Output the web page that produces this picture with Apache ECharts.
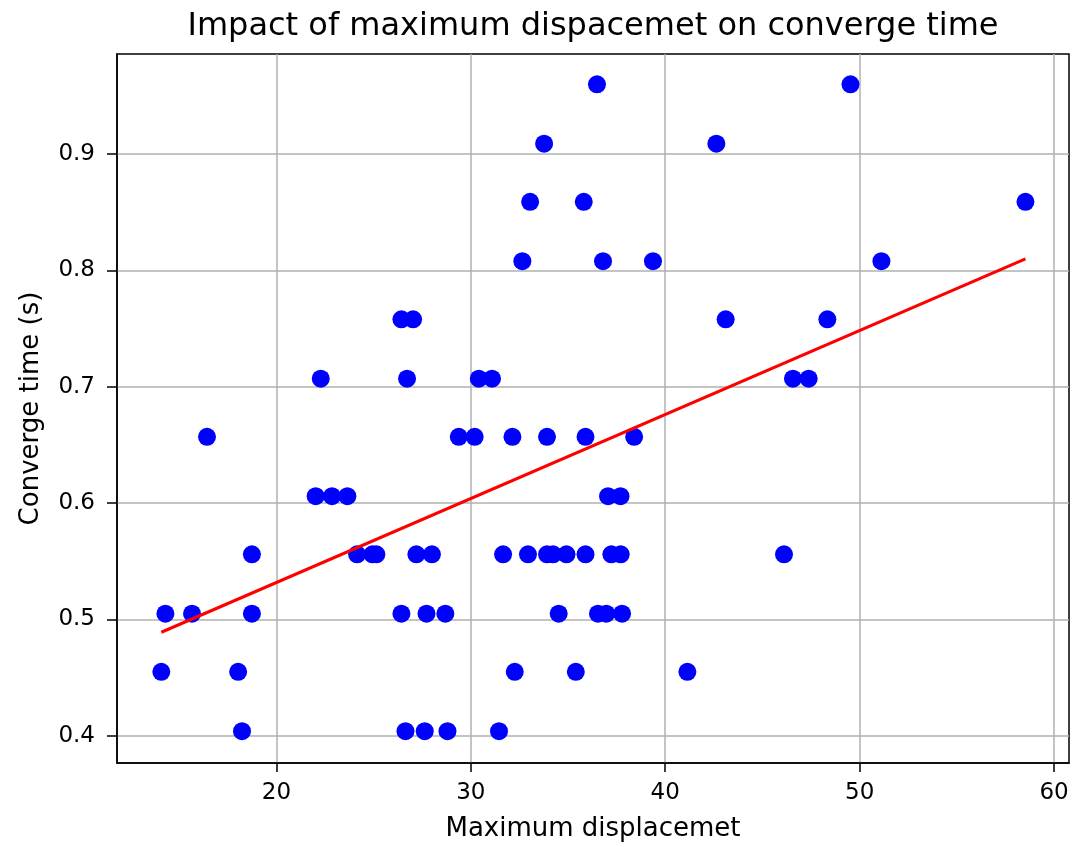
<!DOCTYPE html>
<html>
<head>
<meta charset="utf-8">
<script src="https://cdn.jsdelivr.net/npm/echarts@6/dist/echarts.min.js"></script>
<style>
html,body{margin:0;padding:0;background:#fff;}
#chart{width:1074px;height:847px;}
</style>
</head>
<body>
<div id="chart"></div>
<script>
// Data
const displacement = [
  36.49, 49.53,
  33.77, 42.63,
  33.05, 35.81, 58.53,
  32.65, 36.80, 39.37, 51.12,
  26.43, 27.03, 43.11, 48.34,
  22.28, 26.72, 30.41, 31.09, 46.57, 47.38,
  16.43, 29.38, 30.20, 32.14, 33.92, 35.90, 38.40,
  22.02, 22.86, 23.65, 37.06, 37.70,
  18.74, 24.15, 24.94, 25.14, 27.20, 28.00, 31.66, 32.94, 33.92, 34.23, 34.92, 35.90, 37.23, 37.71, 46.11,
  14.29, 15.66, 18.74, 26.43, 27.72, 28.69, 34.52, 36.54, 36.97, 37.78,
  14.08, 18.03, 32.26, 35.40, 41.14,
  18.23, 26.64, 27.63, 28.80, 31.45
];
const convergeTime = [
  0.960, 0.960,
  0.909, 0.909,
  0.859, 0.859, 0.859,
  0.808, 0.808, 0.808, 0.808,
  0.758, 0.758, 0.758, 0.758,
  0.707, 0.707, 0.707, 0.707, 0.707, 0.707,
  0.657, 0.657, 0.657, 0.657, 0.657, 0.657, 0.657,
  0.606, 0.606, 0.606, 0.606, 0.606,
  0.556, 0.556, 0.556, 0.556, 0.556, 0.556, 0.556, 0.556, 0.556, 0.556, 0.556, 0.556, 0.556, 0.556, 0.556,
  0.505, 0.505, 0.505, 0.505, 0.505, 0.505, 0.505, 0.505, 0.505, 0.505,
  0.455, 0.455, 0.455, 0.455, 0.455,
  0.404, 0.404, 0.404, 0.404, 0.404
];
const trendX = [14.08, 58.53];
const trendY = [0.489, 0.810];
const xTicks = [20, 30, 40, 50, 60];
const yTicks = [0.4, 0.5, 0.6, 0.7, 0.8, 0.9];

const points = displacement.map((x, i) => [x, convergeTime[i]]);
const trend = trendX.map((x, i) => [x, trendY[i]]);

const FONT = 'DejaVu Sans';
const chart = echarts.init(document.getElementById('chart'), null, {renderer: 'canvas'});
chart.setOption({
  animation: false,
  backgroundColor: '#ffffff',
  title: {
    text: 'Impact of maximum dispacemet on converge time',
    left: 588, top: 6, textAlign: 'center',
    textStyle: {fontFamily: FONT, fontSize: 32, fontWeight: 'normal', color: '#000'}
  },
  grid: {left: 117, right: 5, top: 54, bottom: 83, show: true, borderColor: '#000', borderWidth: 1.5, containLabel: false},
  xAxis: {
    type: 'value', min: 11.80, max: 60.77,
    name: 'Maximum displacemet', nameLocation: 'middle', nameGap: 53,
    nameTextStyle: {fontFamily: FONT, fontSize: 26, color: '#000'},
    axisLine: {show: true, onZero: false, lineStyle: {color: '#000', width: 1.5}},
    axisTick: {show: true, length: 9, customValues: xTicks, lineStyle: {color: '#000', width: 1.5}},
    axisLabel: {customValues: xTicks, margin: 19, fontFamily: FONT, fontSize: 23, color: '#000'},
    splitLine: {show: true, lineStyle: {color: '#b0b0b0', width: 1.5}}
  },
  yAxis: {
    type: 'value', min: 0.3766, max: 0.9861,
    name: 'Converge time (s)', nameLocation: 'middle', nameGap: 73, nameRotate: 90,
    nameTextStyle: {fontFamily: FONT, fontSize: 26, color: '#000'},
    axisLine: {show: true, onZero: false, lineStyle: {color: '#000', width: 1.5}},
    axisTick: {show: true, length: 10, customValues: yTicks, lineStyle: {color: '#000', width: 1.5}},
    axisLabel: {customValues: yTicks, margin: 22, fontFamily: FONT, fontSize: 23, color: '#000', formatter: v => v.toFixed(1)},
    splitLine: {show: true, lineStyle: {color: '#b0b0b0', width: 1.5}}
  },
  series: [
    {
      type: 'scatter', data: points, symbol: 'circle', symbolSize: 18,
      itemStyle: {color: '#0000ff', opacity: 1}, z: 2
    },
    {
      type: 'line', data: trend, symbol: 'none', showSymbol: false,
      lineStyle: {color: '#ff0000', width: 3}, z: 3
    }
  ]
});
</script>
</body>
</html>
